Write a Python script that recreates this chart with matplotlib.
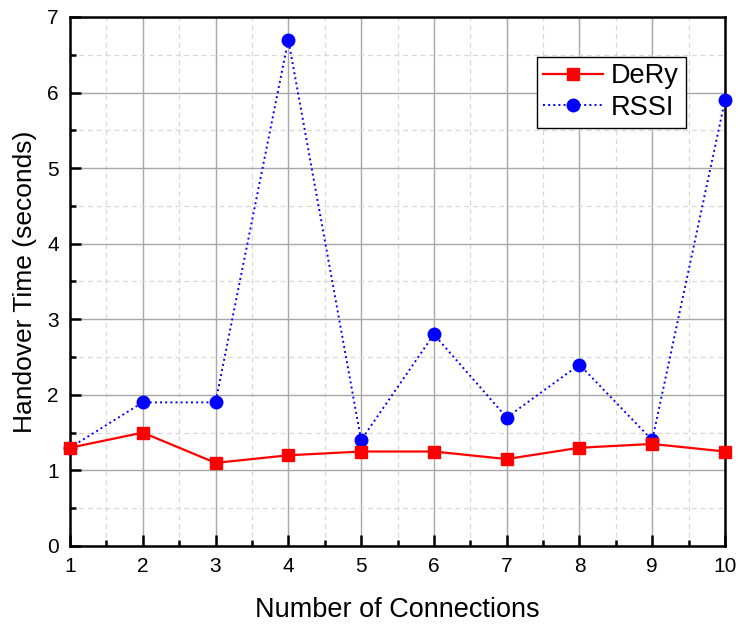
import matplotlib
matplotlib.use("Agg")
import matplotlib.pyplot as plt
from matplotlib.ticker import MultipleLocator

plt.rcParams["font.family"] = ["Liberation Sans", "DejaVu Sans"]

connections = [1, 2, 3, 4, 5, 6, 7, 8, 9, 10]
dery = [1.3, 1.5, 1.1, 1.2, 1.25, 1.25, 1.15, 1.3, 1.35, 1.25]
rssi = [1.3, 1.9, 1.9, 6.7, 1.4, 2.8, 1.7, 2.4, 1.4, 5.9]

fig = plt.figure(figsize=(7.43, 6.28), dpi=100)
ax = fig.add_axes([0.0942, 0.1306, 0.8816, 0.8424])

ax.plot(connections, dery, color="red", lw=1.6, marker="s", ms=8,
        label="DeRy", zorder=4, clip_on=False)
ax.plot(connections, rssi, color="blue", lw=1.4, ls=":", marker="o", ms=9,
        label="RSSI", zorder=3, clip_on=False)

ax.set_xlim(1, 10)
ax.set_ylim(0, 7)
ax.xaxis.set_major_locator(MultipleLocator(1))
ax.xaxis.set_minor_locator(MultipleLocator(0.5))
ax.yaxis.set_major_locator(MultipleLocator(1))
ax.yaxis.set_minor_locator(MultipleLocator(0.5))

ax.grid(which="major", color="#a8a8a8", lw=1.0, ls="-")
ax.grid(which="minor", color="#d8d8d8", lw=0.9, ls=(0, (4, 3)))
ax.set_axisbelow(True)

for s in ax.spines.values():
    s.set_linewidth(1.8)
ax.tick_params(which="both", direction="in", top=False, right=False, width=1.8)
ax.tick_params(which="major", length=8, labelsize=15, pad=8)
ax.tick_params(which="minor", length=4)

ax.set_xlabel("Number of Connections", fontsize=19.5, labelpad=15)
ax.set_ylabel("Handover Time (seconds)", fontsize=19, labelpad=7)

leg = ax.legend(loc="upper right", bbox_to_anchor=(0.94, 0.925), fontsize=19.5,
                fancybox=False, framealpha=1, edgecolor="black",
                handlelength=2.2, borderpad=0.25, labelspacing=0.2,
                handletextpad=0.3, borderaxespad=0)
leg.get_frame().set_linewidth(1.0)

fig.savefig("out.png", dpi=100)
